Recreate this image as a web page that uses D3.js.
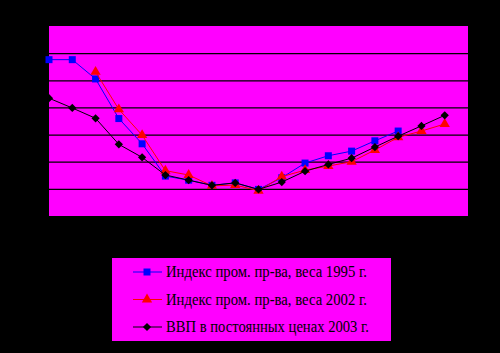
<!DOCTYPE html>
<html>
<head>
<meta charset="utf-8">
<script src="https://cdn.jsdelivr.net/npm/d3@7"></script>
<style>
  html, body { margin: 0; padding: 0; background: #000; }
  svg { display: block; }
</style>
</head>
<body>
<div id="app"></div>
<script>
// periods on the x axis (labels are not shown in the chart)
const periods = d3.range(1, 19)

// series values (index)
const prom1995 = [107.6, 107.6, 100.5, 85.9, 76.6, 64.7, 63.2, 61.3, 62.2, 59.8, 64.1, 69.5, 72.2, 73.9, 77.7, 81.3, null, null]
const prom2002 = [null, null, 103.1, 89.3, 79.8, 66.7, 65.1, 61.1, 61.4, 59.3, 64.5, 66.9, 68.4, 70.0, 74.3, 79.0, 81.3, 83.9]
const gdp2003 = [93.4, 89.8, 86.0, 76.4, 71.6, 65.1, 63.2, 61.3, 62.2, 59.8, 62.5, 66.5, 69.0, 71.3, 75.4, 79.4, 83.2, 87.1]

const seriesNames = [
  'Индекс пром. пр-ва, веса 1995 г.',
  'Индекс пром. пр-ва, веса 2002 г.',
  'ВВП в постоянных ценах 2003 г.'
]
const yTicks = [60, 70, 80, 90, 100, 110]

const series = [
  { name: seriesNames[0], values: prom1995, color: '#0000ff', marker: d3.symbolSquare, size: 49, rotate: 0 },
  { name: seriesNames[1], values: prom2002, color: '#ff0000', marker: d3.symbolTriangle, size: 46, rotate: 0 },
  { name: seriesNames[2], values: gdp2003, color: '#000000', marker: d3.symbolSquare, size: 34, rotate: 45 }
]

const width = 500
const height = 353
const plot = { left: 49, top: 26, right: 468, bottom: 216 }

const svg = d3.select('#app').append('svg')
  .attr('width', width)
  .attr('height', height)
  .style('background', '#000')

// plot area
svg.append('rect')
  .attr('x', plot.left)
  .attr('y', plot.top)
  .attr('width', plot.right - plot.left)
  .attr('height', plot.bottom - plot.top)
  .attr('fill', '#ff00ff')

const x = d3.scaleLinear().domain([0, periods.length]).range([plot.left, plot.right])
const y = d3.scaleLinear().domain([50, 120]).range([plot.bottom, plot.top])

// horizontal gridlines
const grid = svg.append('g')
  .attr('transform', `translate(${plot.left},0)`)
  .call(d3.axisLeft(y).tickValues(yTicks).tickSize(-(plot.right - plot.left)).tickFormat(''))
grid.select('.domain').remove()
grid.selectAll('line').attr('stroke', '#000').attr('stroke-width', 1.2)

const line = d3.line()
  .defined((d) => d != null)
  .x((d, i) => x(i))
  .y((d) => y(d))

series.forEach((s) => {
  const g = svg.append('g')
  g.append('path')
    .datum(s.values)
    .attr('fill', 'none')
    .attr('stroke', s.color)
    .attr('stroke-width', 1)
    .attr('d', line)

  g.selectAll('path.pt')
    .data(s.values.map((v, i) => ({ v, i })).filter((d) => d.v != null))
    .join('path')
    .attr('class', 'pt')
    .attr('transform', (d) => `translate(${x(d.i)},${y(d.v)}) rotate(${s.rotate})`)
    .attr('d', d3.symbol(s.marker, s.size))
    .attr('fill', s.color)
})

// legend
const legend = svg.append('g')
legend.append('rect')
  .attr('x', 112)
  .attr('y', 258)
  .attr('width', 279)
  .attr('height', 83)
  .attr('fill', '#ff00ff')

const rowY = d3.scalePoint().domain(seriesNames).range([272, 327])

series.forEach((s) => {
  const yy = rowY(s.name)
  legend.append('line')
    .attr('x1', 133).attr('x2', 162)
    .attr('y1', yy).attr('y2', yy)
    .attr('stroke', s.color)
  legend.append('path')
    .attr('transform', `translate(147,${yy}) rotate(${s.rotate})`)
    .attr('d', d3.symbol(s.marker, s.size))
    .attr('fill', s.color)
  legend.append('text')
    .attr('x', 166)
    .attr('y', yy + 5)
    .attr('font-family', '"Liberation Serif", "DejaVu Serif", serif')
    .attr('font-size', 16)
    .attr('textLength', s === series[2] ? 203 : 201)
    .attr('lengthAdjust', 'spacingAndGlyphs')
    .attr('fill', '#000')
    .text(s.name)
})
</script>
</body>
</html>
